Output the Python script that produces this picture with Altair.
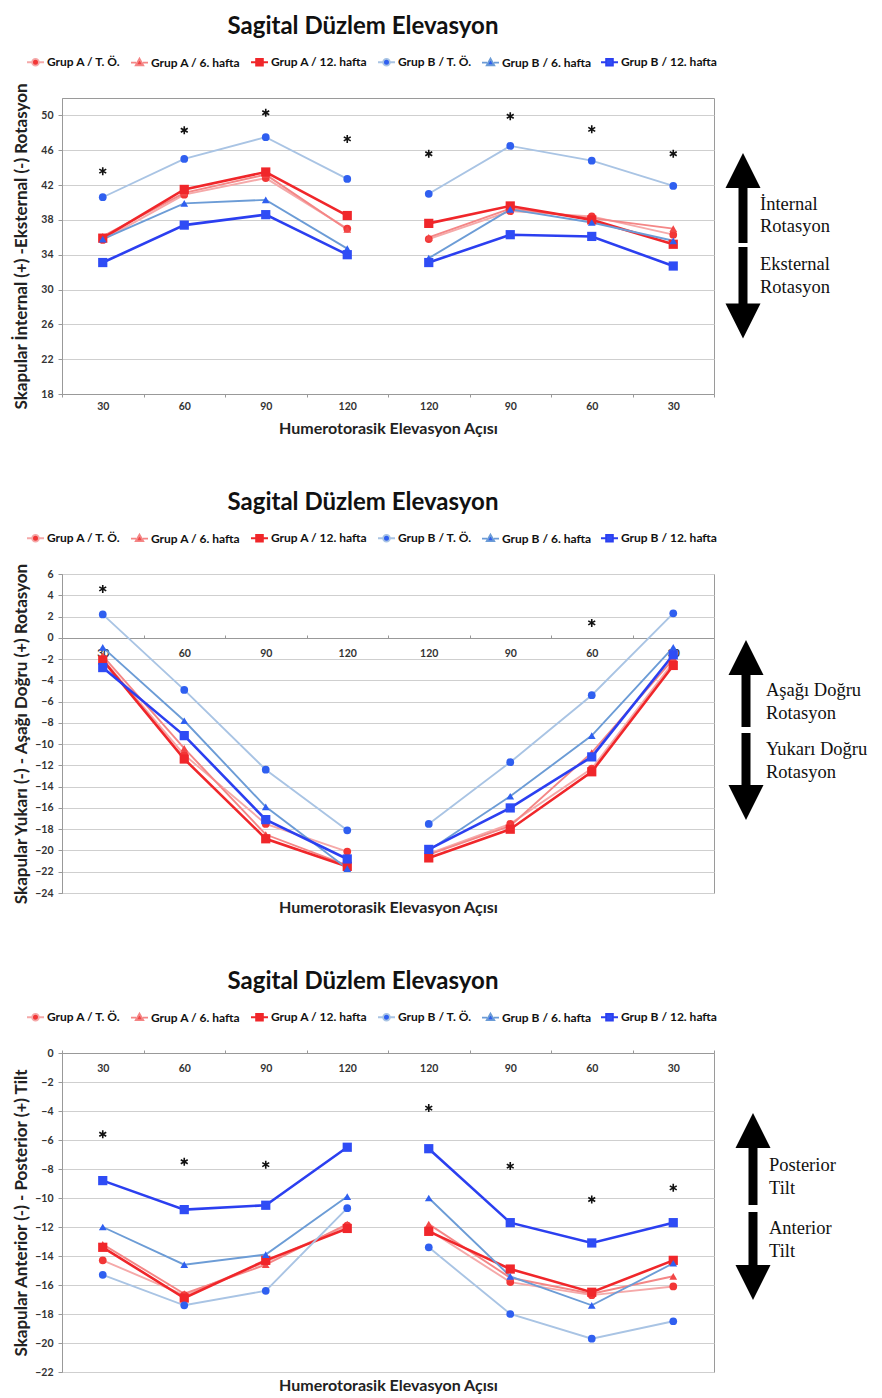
import altair as alt
import pandas as pd

# ---------------- data ----------------
SERIES = ["Grup A / T. Ö.", "Grup A / 6. hafta", "Grup A / 12. hafta",
          "Grup B / T. Ö.", "Grup B / 6. hafta", "Grup B / 12. hafta"]
ANGLE_LABELS = ["30", "60", "90", "120", "120", "90", "60", "30"]
PHASES = ["elevasyon"] * 4 + ["indirme"] * 4

# Panel 1: internal (+) / external (-) rotation
ROT_A_TO = [35.7, 40.9, 42.8, 37.0, 35.8, 39.0, 38.4, 36.3]
ROT_A_6 = [36.1, 41.1, 43.2, 36.9, 36.0, 39.3, 38.2, 37.0]
ROT_A_12 = [35.9, 41.5, 43.5, 38.5, 37.6, 39.6, 38.0, 35.2]
ROT_B_TO = [40.6, 45.0, 47.5, 42.7, 41.0, 46.5, 44.8, 41.9]
ROT_B_6 = [35.8, 39.9, 40.3, 34.7, 33.6, 39.2, 37.7, 35.6]
ROT_B_12 = [33.1, 37.4, 38.6, 34.0, 33.1, 36.3, 36.1, 32.7]
ROT_STAR_IDX = [1, 2, 3, 4, 5, 6, 7, 8]
ROT_STAR_VAL = [43.6, 48.3, 50.3, 47.3, 45.6, 49.9, 48.4, 45.6]

# Panel 2: upward (-) / downward (+) rotation
UD_A_TO = [-2.0, -11.0, -17.5, -20.1, -20.3, -17.5, -12.3, -2.3]
UD_A_6 = [-1.7, -10.4, -18.5, -21.4, -20.4, -17.7, -10.8, -2.0]
UD_A_12 = [-2.1, -11.4, -18.9, -21.5, -20.7, -18.0, -12.6, -2.6]
UD_B_TO = [2.2, -4.9, -12.4, -18.1, -17.5, -11.7, -5.4, 2.3]
UD_B_6 = [-0.9, -7.8, -15.9, -21.7, -20.0, -14.9, -9.2, -0.9]
UD_B_12 = [-2.8, -9.2, -17.1, -20.8, -19.9, -16.0, -11.2, -1.6]
UD_STAR_IDX = [1, 7]
UD_STAR_VAL = [4.6, 1.4]

# Panel 3: anterior (-) / posterior (+) tilt
TI_A_TO = [-14.3, -16.7, -14.4, -11.9, -12.2, -15.8, -16.7, -16.1]
TI_A_6 = [-13.2, -16.6, -14.6, -11.8, -11.8, -15.5, -16.6, -15.4]
TI_A_12 = [-13.4, -16.9, -14.3, -12.1, -12.3, -14.9, -16.5, -14.3]
TI_B_TO = [-15.3, -17.4, -16.4, -10.7, -13.4, -18.0, -19.7, -18.5]
TI_B_6 = [-12.0, -14.6, -13.9, -9.9, -10.0, -15.4, -17.4, -14.5]
TI_B_12 = [-8.8, -10.8, -10.5, -6.5, -6.6, -11.7, -13.1, -11.7]
TI_STAR_IDX = [1, 2, 3, 5, 6, 7, 8]
TI_STAR_VAL = [-5.6, -7.5, -7.7, -3.8, -7.8, -10.1, -9.3]

# ---------------- styles ----------------
LINE_COLORS = ["#f5a9a9", "#f48686", "#f0262a", "#a9c4e4", "#6c9cd6", "#2b3ff0"]
MARKER_COLORS = ["#f23636", "#f24646", "#f0262a", "#2f5ff0", "#2f5ff0", "#2f4cf5"]
SHAPES = ["circle", "triangle-up", "square", "circle", "triangle-up", "square"]
LG_CIRCLE = "M-1,0L-0.4,0M0.4,0L1,0M0.4,0A0.4,0.4,0,1,1,-0.4,0A0.4,0.4,0,1,1,0.4,0Z"
LG_TRI = "M-1,0L-0.4,0M0.4,0L1,0M0,-0.48L0.44,0.3L-0.44,0.3Z"
LG_SQ = "M-1,0L-0.4,0M0.4,0L1,0M-0.4,-0.4L0.4,-0.4L0.4,0.4L-0.4,0.4Z"
LEGEND_PATHS = [LG_CIRCLE, LG_TRI, LG_SQ, LG_CIRCLE, LG_TRI, LG_SQ]
STAR_PATH = "M0,-1L0,1M-0.87,-0.5L0.87,0.5M-0.87,0.5L0.87,-0.5"
HEAD_UP = "M0,-1L1,1L-1,1Z"
HEAD_DN = "M0,1L1,-1L-1,-1Z"
BOLD = ["Grup A / 12. hafta", "Grup B / 12. hafta"]

W = 652
LABEL_EXPR = "[" + ",".join("'%s'" % a for a in ANGLE_LABELS) + "][datum.value - 1]"


def long_df(series_vals):
    rows = []
    for s, vals in zip(SERIES, series_vals):
        for i, v in enumerate(vals):
            rows.append({"series": s, "idx": i + 1, "phase": PHASES[i], "value": v})
    return pd.DataFrame(rows)


def legend_obj():
    return alt.Legend(orient="none", legendX=-36, legendY=-45.5, direction="horizontal",
                      title=None, symbolSize=289, symbolStrokeWidth=1.8,
                      symbolFillColor="#000", symbolStrokeColor="#000",
                      labelFont="Lato", labelFontSize=12, labelFontWeight="bold",
                      labelColor="#111", labelOffset=2, columnPadding=6, padding=0)


def make_panel(series_vals, ymin, ymax, ystep, ytitle, star_idx, star_val, height,
               xaxis, deco):
    df = long_df(series_vals)
    stars = pd.DataFrame({"idx": star_idx, "value": star_val})
    xenc = alt.X("idx:O", scale=alt.Scale(type="band", paddingInner=0, paddingOuter=0),
                 axis=xaxis, title="Humerotorasik Elevasyon Açısı")
    yenc = alt.Y("value:Q", scale=alt.Scale(domain=[ymin, ymax], nice=False, zero=False),
                 title=ytitle,
                 axis=alt.Axis(values=list(range(ymin, ymax + 1, ystep)), tickSize=4,
                               tickColor="#999", domainColor="#999", labelPadding=5,
                               labelFontSize=10.5, titleFontSize=17, gridColor="#cfcfcf",
                               titleX=-41, titleBaseline="middle"))
    bold_test = "indexof(%s, datum.series) >= 0" % ("[" + ",".join("'%s'" % b for b in BOLD) + "]")
    lines = alt.Chart(df).mark_line().encode(
        x=xenc, y=yenc,
        stroke=alt.Stroke("series:N", scale=alt.Scale(domain=SERIES, range=LINE_COLORS), legend=None),
        detail="phase:N",
        strokeWidth=alt.condition(bold_test, alt.value(2.6), alt.value(1.9)),
    )
    points = alt.Chart(df).mark_point(filled=True, opacity=1, strokeWidth=0).encode(
        x=xenc, y=yenc,
        fill=alt.Fill("series:N", scale=alt.Scale(domain=SERIES, range=MARKER_COLORS), legend=None),
        shape=alt.Shape("series:N", scale=alt.Scale(domain=SERIES, range=SHAPES), legend=None),
        size=alt.condition(bold_test, alt.value(85), alt.value(60)),
    )
    legend_layer = alt.Chart(df).transform_filter("false").mark_point(filled=True, opacity=1).encode(
        stroke=alt.Stroke("series:N", scale=alt.Scale(domain=SERIES, range=LINE_COLORS), legend=legend_obj()),
        fill=alt.Fill("series:N", scale=alt.Scale(domain=SERIES, range=MARKER_COLORS), legend=legend_obj()),
        shape=alt.Shape("series:N", scale=alt.Scale(domain=SERIES, range=LEGEND_PATHS), legend=legend_obj()),
    )
    star_layer = alt.Chart(stars).mark_point(shape=STAR_PATH, size=64, filled=False,
                                              stroke="#111", strokeWidth=1.6, opacity=1).encode(
        x=xenc, y=yenc)

    one = pd.DataFrame({"k": [0]})
    ax = deco["x"]
    deco_layers = [
        alt.Chart(one).mark_rule(color="black", strokeWidth=9).encode(
            x=alt.value(ax), y=alt.value(deco["up_shaft"][0]), y2=alt.value(deco["up_shaft"][1])),
        alt.Chart(one).mark_rule(color="black", strokeWidth=9).encode(
            x=alt.value(ax), y=alt.value(deco["dn_shaft"][0]), y2=alt.value(deco["dn_shaft"][1])),
        alt.Chart(one).mark_point(shape=HEAD_UP, size=1225, filled=True, color="black", opacity=1,
                                  strokeWidth=0).encode(x=alt.value(ax), y=alt.value(deco["up_head"])),
        alt.Chart(one).mark_point(shape=HEAD_DN, size=1225, filled=True, color="black", opacity=1,
                                  strokeWidth=0).encode(x=alt.value(ax), y=alt.value(deco["dn_head"])),
    ]
    for txt, ty in deco["texts"]:
        deco_layers.append(
            alt.Chart(one).mark_text(font="Liberation Serif", fontSize=18.5, align="left",
                                     baseline="middle", color="#111").encode(
                x=alt.value(deco["tx"]), y=alt.value(ty), text=alt.value(txt)))

    layer = alt.layer(lines, points, star_layer, legend_layer, *deco_layers).resolve_scale(
        stroke="independent", fill="independent", shape="independent"
    ).properties(width=W, height=height, title="Sagital Düzlem Elevasyon")
    return layer


AX_COMMON = dict(labelExpr=LABEL_EXPR, tickBand="extent", tickSize=3, tickColor="#999",
                 domainColor="#999", labelFontSize=10.5, labelAngle=0, titleFontSize=16,
                 grid=False, labelOverlap=False)

xaxis1 = alt.Axis(orient="bottom", labelPadding=4, titlePadding=9, **AX_COMMON)
xaxis2 = alt.Axis(orient="top", offset=-64, labelPadding=-18, labelBaseline="middle",
                  titleY=269, titleBaseline="middle", **AX_COMMON)
xaxis3 = alt.Axis(orient="top", offset=0, labelPadding=-18, labelBaseline="middle",
                  titleY=332, titleBaseline="middle", **AX_COMMON)

deco1 = {"x": 681, "up_head": 72.5, "up_shaft": (88, 145), "dn_shaft": (149, 208), "dn_head": 223,
         "tx": 698, "texts": [("İnternal", 106), ("Rotasyon", 128), ("Eksternal", 166), ("Rotasyon", 189)]}
deco2 = {"x": 684, "up_head": 83.5, "up_shaft": (99, 153), "dn_shaft": (159, 213), "dn_head": 228.5,
         "tx": 704, "texts": [("Aşağı Doğru", 116), ("Rotasyon", 139), ("Yukarı Doğru", 175), ("Rotasyon", 198)]}
deco3 = {"x": 691, "up_head": 77.5, "up_shaft": (93, 152), "dn_shaft": (159, 214), "dn_head": 229.5,
         "tx": 707, "texts": [("Posterior", 112), ("Tilt", 135), ("Anterior", 175), ("Tilt", 198)]}

p1 = make_panel([ROT_A_TO, ROT_A_6, ROT_A_12, ROT_B_TO, ROT_B_6, ROT_B_12], 18, 52, 4,
                "Skapular İnternal (+) -Eksternal (-) Rotasyon", ROT_STAR_IDX, ROT_STAR_VAL,
                296, xaxis1, deco1)
p2 = make_panel([UD_A_TO, UD_A_6, UD_A_12, UD_B_TO, UD_B_6, UD_B_12], -24, 6, 2,
                "Skapular Yukarı (-) - Aşağı Doğru (+) Rotasyon", UD_STAR_IDX, UD_STAR_VAL,
                319, xaxis2, deco2)
p3 = make_panel([TI_A_TO, TI_A_6, TI_A_12, TI_B_TO, TI_B_6, TI_B_12], -22, 0, 2,
                "Skapular Anterior (-) - Posterior (+) Tilt", TI_STAR_IDX, TI_STAR_VAL,
                319, xaxis3, deco3)

chart = alt.vconcat(p1, p2, p3, spacing=53).resolve_scale(
    stroke="independent", fill="independent", shape="independent"
).properties(
    padding={"left": 3, "top": 6, "right": 2, "bottom": 3}
).configure_view(
    stroke="#9a9a9a", strokeWidth=1
).configure_axis(
    labelFont="Lato", titleFont="Lato", labelFontWeight="bold", titleFontWeight="bold",
    labelColor="#333", titleColor="#222"
).configure_title(
    font="Lato", fontSize=24, fontWeight="bold", color="#111", anchor="middle",
    frame="group", dx=-25, offset=13.5
)

chart.save("out.html", embed_options={"renderer": "svg", "actions": False})
